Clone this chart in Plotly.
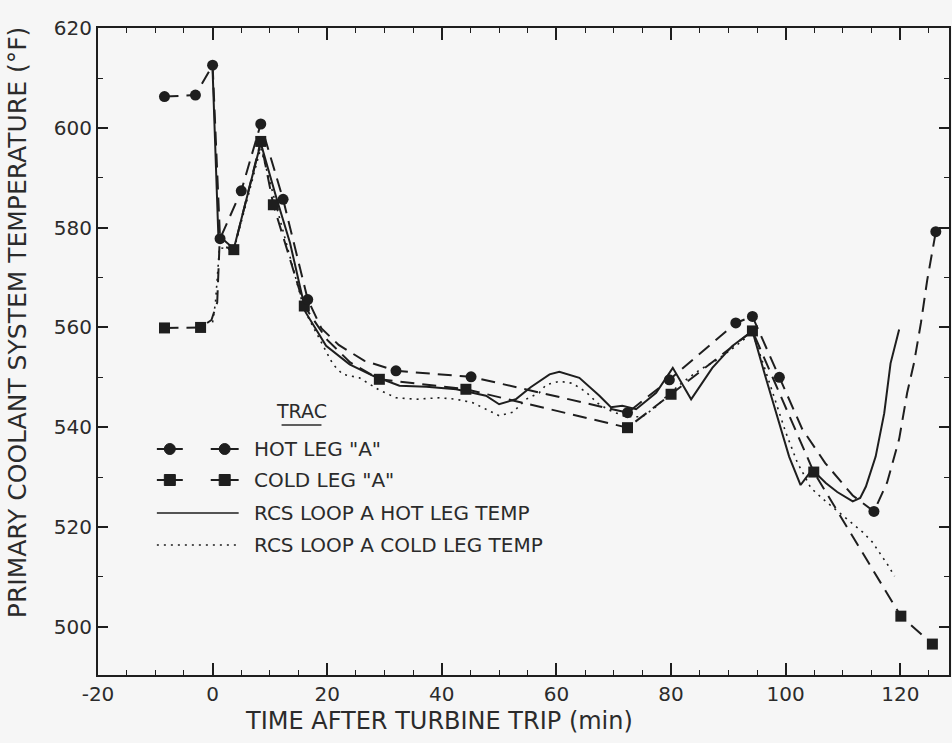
import plotly.graph_objects as go

# ---------------- data ----------------
# TRAC hot leg "A": marker points
hot_trac_mx = [-8.4, -3.0, 0.0, 1.3, 5.0, 8.4, 12.3, 16.6, 32.0, 45.1, 72.4, 79.7, 91.3, 94.2, 98.9, 115.4, 126.2]
hot_trac_my = [606.3, 606.6, 612.6, 577.8, 587.4, 600.8, 585.7, 565.6, 551.3, 550.1, 542.9, 549.5, 560.9, 562.2, 550.0, 523.1, 579.2]
# TRAC hot leg "A": curve path
hot_trac_x = [-8.4, -3.0, 0.0, 1.3, 5.0, 8.4, 12.3, 16.6, 19.0, 22.0, 26.5, 32.0, 45.1, 72.4, 79.7, 91.3, 94.2,
              98.9, 102.9, 106.9, 111.7, 115.4, 117.7, 119.8, 121.2, 122.4, 123.6, 124.7, 126.2]
hot_trac_y = [606.3, 606.6, 612.6, 577.8, 587.4, 600.8, 585.7, 565.6, 559.8, 556.5, 553.3, 551.3, 550.1, 542.9, 549.5, 560.9, 562.2,
              550.0, 539.6, 532.8, 526.3, 523.1, 528.9, 537.6, 546.9, 552.9, 560.9, 569.5, 579.2]

# TRAC cold leg "A": marker points
cold_trac_mx = [-8.4, -2.1, 3.7, 8.4, 10.6, 16.0, 29.1, 44.2, 72.4, 80.0, 94.2, 104.9, 120.1, 125.6]
cold_trac_my = [559.9, 560.0, 575.6, 597.3, 584.6, 564.3, 549.6, 547.6, 539.9, 546.6, 559.3, 531.0, 502.1, 496.5]
# TRAC cold leg "A": curve path
cold_trac_x = [-8.4, -2.1, -0.2, 0.8, 1.2, 3.7, 8.4, 10.6, 16.0, 20.0, 24.0, 29.1, 44.2, 72.4, 80.0, 94.2, 104.9, 120.1, 125.6]
cold_trac_y = [559.9, 560.0, 561.5, 565.0, 576.5, 575.6, 597.3, 584.6, 564.3, 557.5, 553.0, 549.6, 547.6, 539.9, 546.6, 559.3, 531.0, 502.1, 496.5]

# RCS loop A hot leg temp (plant data, solid)
rcs_hot_x = [0.0, 0.5, 1.0, 3.7, 6.0, 8.4, 11.0, 13.5, 16.3, 19.8, 23.9, 28.0, 32.6, 37.3, 42.5, 47.7, 50.0, 52.9,
             55.5, 58.8, 60.5, 64.0, 67.5, 69.5, 71.5, 73.9, 77.4, 80.3, 83.5, 87.2, 90.7, 94.2, 96.5, 98.3, 100.6,
             102.6, 104.3, 105.5, 107.0, 109.0, 111.7, 113.0, 114.0, 115.7, 117.2, 118.3, 119.8]
rcs_hot_y = [611.5, 595.0, 578.5, 575.8, 586.0, 597.0, 586.5, 577.0, 562.9, 556.3, 552.6, 550.3, 548.3, 548.1, 547.6, 546.3, 544.6, 545.6,
             548.0, 550.6, 551.1, 549.9, 546.3, 544.0, 544.3, 543.6, 546.9, 551.9, 545.6, 551.9, 556.3, 559.3, 550.0, 542.9, 534.1,
             528.4, 531.0, 530.5, 528.8, 527.0, 525.1, 525.8, 528.1, 534.1, 542.8, 552.8, 559.6]

# RCS loop A cold leg temp (plant data, dotted)
rcs_cold_x = [0.0, 0.5, 1.2, 3.7, 8.4, 11.0, 16.0, 18.7, 21.0, 22.7, 25.6, 29.0, 32.0, 35.5, 39.6, 42.5, 45.4, 47.7,
              50.0, 52.4, 54.7, 57.0, 58.2, 60.5, 62.8, 65.1, 67.2, 69.2, 72.1, 75.0, 77.4, 79.1, 82.0, 85.0, 88.0,
              91.0, 94.2, 96.0, 98.0, 100.0, 102.0, 104.4, 107.0, 110.8, 113.4, 115.1, 116.9, 117.8, 119.0]
rcs_cold_y = [561.0, 565.0, 576.0, 575.5, 596.0, 585.0, 563.5, 557.6, 552.6, 550.6, 549.9, 547.5, 545.9, 545.6, 545.9, 545.6, 544.9, 543.6,
              542.3, 543.0, 545.6, 546.9, 548.5, 549.2, 548.8, 547.1, 544.8, 543.4, 542.1, 542.1, 544.1, 546.1, 549.0, 551.5, 553.5,
              556.0, 559.0, 553.0, 546.0, 539.0, 533.0, 527.8, 525.1, 521.4, 519.0, 517.0, 514.1, 512.4, 510.1]

x_tickvals = [-20, 0, 20, 40, 60, 80, 100, 120]
x_ticktext = ["-20", "0", "20", "40", "60", "80", "100", "120"]
y_tickvals = [500, 520, 540, 560, 580, 600, 620]
y_ticktext = ["500", "520", "540", "560", "580", "600", "620"]

legend_labels = ['HOT LEG "A"', 'COLD LEG "A"', 'RCS LOOP A HOT LEG TEMP', 'RCS LOOP A COLD LEG TEMP']

# ---------------- styling ----------------
INK = "#1e1e1e"
TXT = "#2b2b2b"
BG = "#f6f6f6"
FONT = "DejaVu Sans"
W, H = 952, 743
ML, MR, MT, MB = 98, 1, 28, 68

fig = go.Figure()

fig.add_trace(go.Scatter(x=rcs_cold_x, y=rcs_cold_y, mode="lines",
                         line=dict(color=INK, width=1.6, dash="2px,5px"), showlegend=False))
fig.add_trace(go.Scatter(x=rcs_hot_x, y=rcs_hot_y, mode="lines",
                         line=dict(color=INK, width=2), showlegend=False))
fig.add_trace(go.Scatter(x=cold_trac_x, y=cold_trac_y, mode="lines",
                         line=dict(color=INK, width=2, dash="14px,8px"), showlegend=False))
fig.add_trace(go.Scatter(x=hot_trac_x, y=hot_trac_y, mode="lines",
                         line=dict(color=INK, width=2, dash="14px,8px"), showlegend=False))
fig.add_trace(go.Scatter(x=cold_trac_mx, y=cold_trac_my, mode="markers",
                         marker=dict(symbol="square", size=11, color=INK), showlegend=False))
fig.add_trace(go.Scatter(x=hot_trac_mx, y=hot_trac_my, mode="markers",
                         marker=dict(symbol="circle", size=11, color=INK), showlegend=False))

pw, ph = W - ML - MR, H - MT - MB


def px(xp):
    return (xp - ML) / pw


def py(yp):
    return (H - MB - yp) / ph


shapes = []
annotations = []

# legend title
annotations.append(dict(x=px(302), y=py(411), xref="paper", yref="paper", text="TRAC",
                        xanchor="center", yanchor="middle",
                        showarrow=False, font=dict(family=FONT, size=19, color=TXT)))
shapes.append(dict(type="line", xref="paper", yref="paper", x0=px(282), x1=px(322), y0=py(425), y1=py(425),
                   line=dict(color=TXT, width=1.5)))

rows = [449, 480, 513, 545]
for i, (lab, ry) in enumerate(zip(legend_labels, rows)):
    annotations.append(dict(x=px(252), y=py(ry), xref="paper", yref="paper", text=lab,
                            xanchor="left", yanchor="middle",
                            showarrow=False, font=dict(family=FONT, size=20, color=TXT)))
    if i < 2:
        for a, b, c in [(157, 183, 170), (211, 239, 225)]:
            shapes.append(dict(type="line", xref="paper", yref="paper", x0=px(a), x1=px(b), y0=py(ry), y1=py(ry),
                               line=dict(color=INK, width=2)))
            shapes.append(dict(type="circle" if i == 0 else "rect", xref="paper", yref="paper",
                               xsizemode="pixel", ysizemode="pixel", xanchor=px(c), yanchor=py(ry),
                               x0=-5.5, x1=5.5, y0=-5.5, y1=5.5, fillcolor=INK, line=dict(color=INK, width=1)))
    elif i == 2:
        shapes.append(dict(type="line", xref="paper", yref="paper", x0=px(157), x1=px(239), y0=py(ry), y1=py(ry),
                           line=dict(color=INK, width=1.6)))
    else:
        shapes.append(dict(type="line", xref="paper", yref="paper", x0=px(157), x1=px(239), y0=py(ry), y1=py(ry),
                           line=dict(color=INK, width=1.6, dash="2px,5px")))

# axis titles
annotations.append(dict(x=px(440), y=py(721), xref="paper", yref="paper",
                        xanchor="center", yanchor="middle",
                        text="TIME AFTER TURBINE TRIP (min)", showarrow=False,
                        font=dict(family=FONT, size=24, color=TXT)))
annotations.append(dict(x=px(17), y=py(322), xref="paper", yref="paper", textangle=-90,
                        xanchor="center", yanchor="middle",
                        text="PRIMARY COOLANT SYSTEM TEMPERATURE (°F)", showarrow=False,
                        font=dict(family=FONT, size=25, color=TXT)))

fig.update_layout(
    width=W, height=H,
    margin=dict(l=ML, r=MR, t=MT, b=MB),
    paper_bgcolor=BG, plot_bgcolor=BG,
    showlegend=False,
    shapes=shapes, annotations=annotations,
    font=dict(family=FONT, color=TXT),
)
fig.update_xaxes(range=[-20, 128.5], tickvals=x_tickvals, ticktext=x_ticktext,
                 ticks="inside", ticklen=12, tickwidth=1.5, tickcolor=INK,
                 showline=True, linewidth=2, linecolor=INK, mirror="ticks",
                 showgrid=False, zeroline=False,
                 tickfont=dict(family=FONT, size=20, color=TXT),
                 minor=dict(tick0=0, dtick=5, ticks="inside", ticklen=5, tickwidth=1.3, tickcolor=INK, showgrid=False))
fig.update_yaxes(range=[490.3, 620.05], tickvals=y_tickvals, ticktext=y_ticktext,
                 ticks="inside", ticklen=10, tickwidth=1.5, tickcolor=INK,
                 showline=True, linewidth=2, linecolor=INK, mirror="ticks",
                 showgrid=False, zeroline=False,
                 tickfont=dict(family=FONT, size=20, color=TXT),
                 minor=dict(tick0=500, dtick=10, ticks="inside", ticklen=5, tickwidth=1.3, tickcolor=INK, showgrid=False))

fig.write_html("out.html")
